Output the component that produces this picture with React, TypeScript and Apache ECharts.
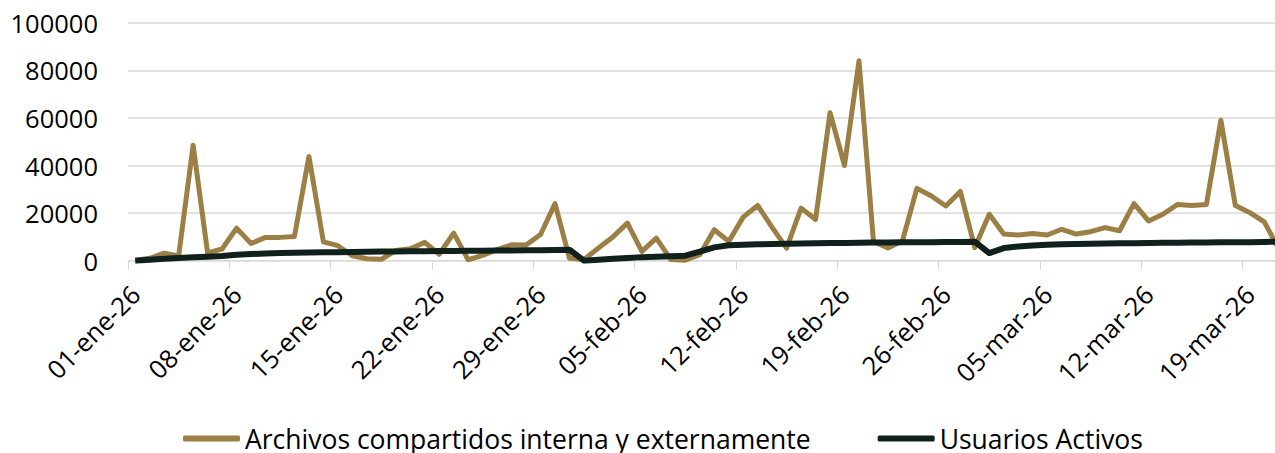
import React, { useEffect, useRef } from "react";
import * as echarts from "echarts";

const months = ["ene", "feb", "mar"];
const monthDays = [31, 28, 21];
const yearSuffix = "26";

const categories: string[] = [];
months.forEach((m, mi) => {
  for (let d = 1; d <= monthDays[mi]; d++) {
    categories.push(`${d < 10 ? "0" + d : d}-${m}-${yearSuffix}`);
  }
});

const archivos = [
  200, 1000, 3200, 2000, 48500, 3300, 4900, 13700, 7200, 9800,
  9800, 10200, 43800, 7900, 6300, 2100, 800, 600, 4300, 5000,
  7700, 2700, 11600, 400, 2200, 4700, 6700, 6600, 11000, 24000,
  1000, 500, 5300, 10000, 15800, 3900, 9500, 500, 200, 2500,
  13000, 8100, 18300, 23200, 14000, 5300, 22100, 17300, 62200, 40000,
  84000, 8100, 5300, 8300, 30400, 27200, 23000, 29100, 5500, 19500,
  11200, 10800, 11400, 10800, 13200, 11200, 12200, 13900, 12600, 24000,
  16700, 19500, 23600, 23200, 23600, 59000, 23200, 20200, 16300, 5000,
];

const usuarios = [
  0, 400, 800, 1100, 1400, 1700, 2000, 2500, 2800, 3000,
  3200, 3300, 3400, 3500, 3600, 3700, 3800, 3900, 3900, 4000,
  4000, 4100, 4100, 4200, 4200, 4300, 4300, 4400, 4400, 4500,
  4600, 0, 400, 800, 1100, 1500, 1700, 1900, 2100, 3800,
  5600, 6500, 6700, 6900, 7000, 7100, 7200, 7300, 7400, 7400,
  7500, 7600, 7600, 7700, 7700, 7800, 7900, 7900, 8000, 3200,
  5300, 6000, 6400, 6700, 6900, 7000, 7100, 7200, 7300, 7300,
  7400, 7500, 7500, 7600, 7600, 7700, 7800, 7800, 7900, 8000,
];

const seriesNames = ["Archivos compartidos interna y externamente", "Usuarios Activos"];
const yTicks = { min: 0, max: 100000, interval: 20000 };

export default function App() {
  const ref = useRef<HTMLDivElement>(null);
  useEffect(() => {
    if (!ref.current) return;
    const chart = echarts.init(ref.current, undefined, { renderer: "svg" });
    const font = "'Open Sans', 'Noto Sans', sans-serif";
    chart.setOption({
      animation: false,
      backgroundColor: "#ffffff",
      grid: { left: 128, top: 22.7, bottom: 192.3, right: 0, containLabel: false },
      legend: {
        left: 183,
        top: 425,
        padding: 0,
        itemWidth: 57,
        itemHeight: 6,
        itemGap: 67,
        icon: "roundRect",
        textStyle: { fontFamily: font, fontSize: 26.5, color: "#000" },
        data: seriesNames,
      },
      xAxis: {
        type: "category",
        data: categories,
        boundaryGap: true,
        axisLine: { lineStyle: { color: "#D9D9D9", width: 1 } },
        axisTick: { show: true, interval: 6, length: 9, lineStyle: { color: "#D9D9D9" } },
        axisLabel: {
          interval: 6,
          rotate: 45,
          margin: 29,
          fontFamily: font,
          fontSize: 25.5,
          color: "#000",
        },
        splitLine: { show: false },
      },
      yAxis: {
        type: "value",
        min: yTicks.min,
        max: yTicks.max,
        interval: yTicks.interval,
        axisLine: { show: false },
        axisTick: { show: false },
        axisLabel: {
          margin: 30,
          fontFamily: font,
          fontSize: 25.5,
          color: "#000",
          formatter: (v: number) => String(v),
        },
        splitLine: { lineStyle: { color: "#D9D9D9", width: 1.5 } },
      },
      series: [
        {
          name: seriesNames[0],
          type: "line",
          data: archivos,
          showSymbol: false,
          symbol: "none",
          lineStyle: { color: "#9C7F45", width: 5, join: "round" },
          itemStyle: { color: "#9C7F45" },
        },
        {
          name: seriesNames[1],
          type: "line",
          data: usuarios,
          showSymbol: false,
          symbol: "none",
          lineStyle: { color: "#0F201D", width: 6, join: "round" },
          itemStyle: { color: "#0F201D" },
        },
      ],
    });
    return () => chart.dispose();
  }, []);
  return (
    <div style={{ position: "fixed", left: 0, top: 0, width: 1275, height: 453, overflow: "hidden" }}>
      <div ref={ref} style={{ position: "absolute", left: 0, top: 0, width: 1286.4, height: 453 }} />
    </div>
  );
}
